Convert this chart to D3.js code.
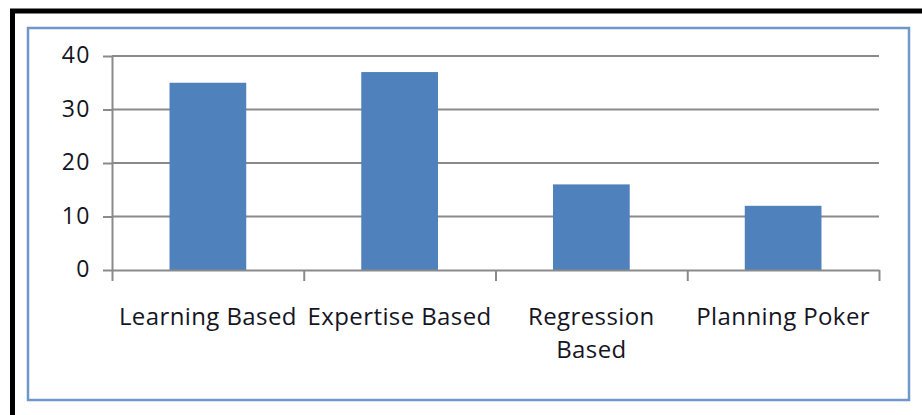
<!DOCTYPE html>
<html>
<head>
<meta charset="utf-8">
<script src="https://cdn.jsdelivr.net/npm/d3@7"></script>
<style>
  html, body { margin: 0; padding: 0; background: #fff; overflow: hidden; }
  text { font-family: "Open Sans", sans-serif; fill: #15151f; }
</style>
</head>
<body>
<svg id="chart" width="922" height="415"></svg>
<script>
// Data
const categories = ["Learning Based", "Expertise Based", "Regression Based", "Planning Poker"];
const values = [35, 37, 16, 12];
const yTicks = [0, 10, 20, 30, 40];

const W = 922, H = 415;
const svg = d3.select("#chart");

// Outer black frame (open towards the right/bottom edges of the page)
svg.append("rect")
  .attr("x", 12.5).attr("y", 11)
  .attr("width", W + 20).attr("height", H + 20)
  .attr("fill", "none").attr("stroke", "#000").attr("stroke-width", 5);

// Chart area border
svg.append("rect")
  .attr("x", 28).attr("y", 28)
  .attr("width", 881).attr("height", 372)
  .attr("fill", "none").attr("stroke", "#6f97cc").attr("stroke-width", 2.5);

const plot = { left: 112, right: 879, top: 56, bottom: 270 };

const x = d3.scaleBand()
  .domain(categories)
  .range([plot.left, plot.right])
  .paddingInner(0.6)
  .paddingOuter(0.3);

// category boundaries for the tick marks on the horizontal axis
const xEdges = d3.scaleLinear()
  .domain([0, categories.length])
  .range([plot.left, plot.right]);

const y = d3.scaleLinear()
  .domain([0, 40])
  .range([plot.bottom, plot.top]);

const axisColor = "#8a8a8a";

// Horizontal gridlines
svg.append("g")
  .selectAll("line")
  .data(yTicks.filter(d => d > 0))
  .join("line")
  .attr("x1", plot.left).attr("x2", plot.right)
  .attr("y1", d => y(d)).attr("y2", d => y(d))
  .attr("stroke", axisColor).attr("stroke-width", 2);

// Bars
svg.append("g")
  .selectAll("rect")
  .data(categories.map((c, i) => ({ c, v: values[i] })))
  .join("rect")
  .attr("x", d => x(d.c))
  .attr("width", x.bandwidth())
  .attr("y", d => y(d.v))
  .attr("height", d => y(0) - y(d.v))
  .attr("fill", "#4f81bd");

// Vertical axis
const yAxis = svg.append("g")
  .attr("transform", `translate(${plot.left},0)`)
  .call(d3.axisLeft(y).tickValues(yTicks).tickSizeInner(9).tickSizeOuter(0).tickPadding(12));
yAxis.select(".domain").attr("stroke", axisColor).attr("stroke-width", 2);
yAxis.selectAll(".tick line").attr("stroke", axisColor).attr("stroke-width", 2);
yAxis.selectAll(".tick text")
  .attr("font-family", "Open Sans, sans-serif")
  .attr("font-size", 23)
  .attr("letter-spacing", 1.5)
  .attr("dy", "0.3em")
  .attr("fill", "#15151f");

// Horizontal axis with tick marks between categories
const xAxis = svg.append("g")
  .attr("transform", `translate(0,${plot.bottom})`)
  .call(d3.axisBottom(xEdges).tickValues(d3.range(categories.length + 1)).tickSizeInner(11).tickSizeOuter(0).tickFormat(""));
xAxis.select(".domain").attr("stroke", axisColor).attr("stroke-width", 2);
xAxis.selectAll(".tick line").attr("stroke", axisColor).attr("stroke-width", 2);

// Category labels, wrapped to the category width
const labelSize = 24;
const labels = svg.append("g")
  .selectAll("text")
  .data(categories)
  .join("text")
  .attr("x", d => x(d) + x.bandwidth() / 2)
  .attr("y", 324.5)
  .attr("text-anchor", "middle")
  .attr("font-size", labelSize)
  .attr("letter-spacing", 0.4)
  .text(d => d);

labels.each(function (d) {
  const maxW = x.step();
  const t = d3.select(this);
  const words = d.split(" ");
  const cx = +t.attr("x");
  t.text(null);
  let line = [];
  let tspan = t.append("tspan").attr("x", cx).attr("dy", 0);
  words.forEach(w => {
    line.push(w);
    tspan.text(line.join(" "));
    if (tspan.node().getComputedTextLength() > maxW && line.length > 1) {
      line.pop();
      tspan.text(line.join(" "));
      line = [w];
      tspan = t.append("tspan").attr("x", cx).attr("dy", 33.5).text(w);
    }
  });
});
</script>
</body>
</html>
